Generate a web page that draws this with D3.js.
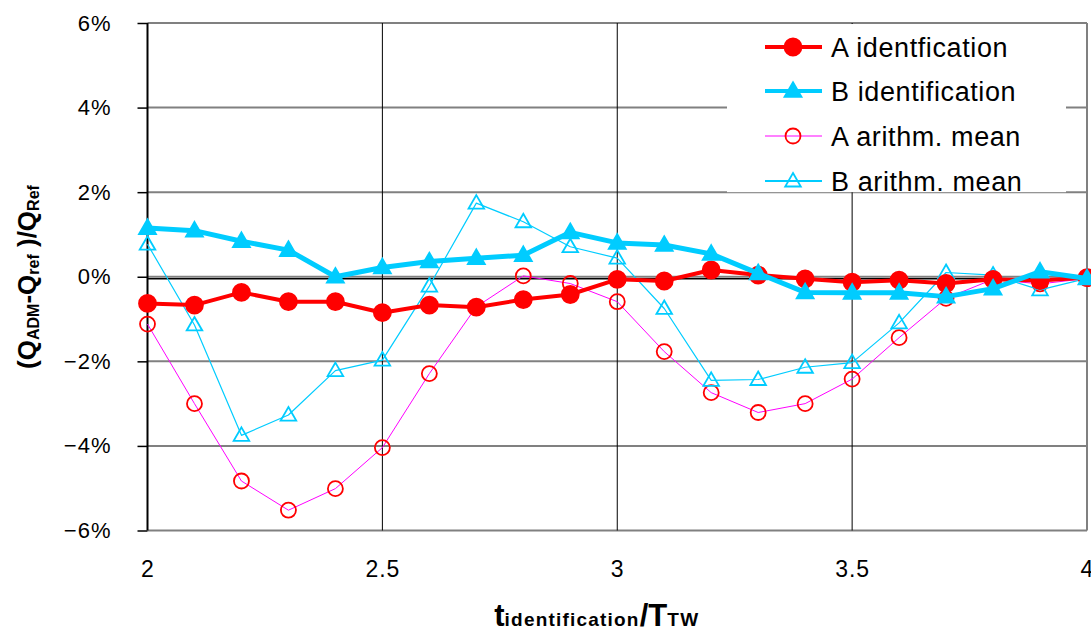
<!DOCTYPE html>
<html>
<head>
<meta charset="utf-8">
<script src="https://cdn.jsdelivr.net/npm/d3@7/dist/d3.min.js"></script>
<style>
    html, body { margin: 0; padding: 0; background: #fff; }
    svg { display: block; font-family: "Liberation Sans", Arial, sans-serif; }
</style>
</head>
<body>
<div id="chart"></div>
<script>
// t_identification / T_TW
var tRatio = [2.0, 2.1, 2.2, 2.3, 2.4, 2.5, 2.6, 2.7, 2.8, 2.9, 3.0,
              3.1, 3.2, 3.3, 3.4, 3.5, 3.6, 3.7, 3.8, 3.9, 4.0];

// deviation in %
var aIdent = [-0.63, -0.67, -0.37, -0.59, -0.59, -0.85, -0.67, -0.72, -0.54, -0.42, -0.06,
              -0.10, 0.16, 0.04, -0.05, -0.13, -0.08, -0.16, -0.06, -0.09, -0.02];
var bIdent = [1.15, 1.09, 0.84, 0.63, 0.00, 0.22, 0.36, 0.44, 0.51, 1.05, 0.80,
              0.75, 0.54, 0.08, -0.37, -0.38, -0.38, -0.47, -0.28, 0.12, -0.04];
var aMean  = [-1.12, -3.00, -4.83, -5.52, -5.01, -4.04, -2.29, -0.71, 0.02, -0.16, -0.59,
              -1.77, -2.74, -3.21, -3.00, -2.42, -1.44, -0.51, -0.06, -0.17, -0.04];
var bMean  = [0.77, -1.14, -3.75, -3.27, -2.22, -1.97, -0.22, 1.74, 1.30, 0.71, 0.44,
              -0.75, -2.45, -2.43, -2.14, -2.03, -1.09, 0.10, 0.04, -0.31, -0.04];

var seriesNames = ['A identfication', 'B identification', 'A arithm. mean', 'B arithm. mean'];
var xTicks = [2, 2.5, 3, 3.5, 4];
var yTicks = [-6, -4, -2, 0, 2, 4, 6];

var RED  = '#ff0000';
var CYAN = '#00ccff';
var PINK = '#ff00ff';

var series = [
    { name: seriesNames[2], values: aMean,  line: PINK, width: 1,   marker: 'circle',   fill: 'none', stroke: RED },
    { name: seriesNames[3], values: bMean,  line: CYAN, width: 1.2, marker: 'triangle', fill: 'none', stroke: CYAN },
    { name: seriesNames[0], values: aIdent, line: RED,  width: 4,   marker: 'circle',   fill: RED,    stroke: RED },
    { name: seriesNames[1], values: bIdent, line: CYAN, width: 5,   marker: 'triangle', fill: CYAN,   stroke: CYAN }
];
var legendOrder = [2, 3, 0, 1];

var W = 1091, H = 637;
var plot = { l: 147.5, r: 1087, t: 23, b: 530.5 };

var x = d3.scaleLinear().domain([2, 4]).range([plot.l, plot.r]);
var y = d3.scaleLinear().domain([-6, 6]).range([plot.b, plot.t]);

var svg = d3.select('#chart').append('svg')
    .attr('width', W)
    .attr('height', H);

// horizontal grid (grey)
svg.append('g')
    .selectAll('line')
    .data(yTicks)
    .join('line')
        .attr('x1', plot.l)
        .attr('x2', plot.r)
        .attr('y1', d => y(d))
        .attr('y2', d => y(d))
        .attr('stroke', '#808080')
        .attr('stroke-width', 2);

// vertical grid (black)
svg.append('g')
    .selectAll('line')
    .data(xTicks.slice(1, -1))
    .join('line')
        .attr('x1', d => x(d))
        .attr('x2', d => x(d))
        .attr('y1', plot.t)
        .attr('y2', plot.b)
        .attr('stroke', '#000')
        .attr('stroke-width', 1);

// right border
svg.append('line')
    .attr('x1', plot.r).attr('x2', plot.r)
    .attr('y1', plot.t).attr('y2', plot.b)
    .attr('stroke', '#808080')
    .attr('stroke-width', 2);

// category axis crossing at 0
svg.append('line')
    .attr('x1', plot.l).attr('x2', plot.r)
    .attr('y1', y(0) + 2).attr('y2', y(0) + 2)
    .attr('stroke', '#000')
    .attr('stroke-width', 1.5);

// value axis
var yAxis = d3.axisLeft(y)
    .tickValues(yTicks)
    .tickSize(10)
    .tickPadding(26)
    .tickFormat(d => (d < 0 ? '\u2212' : '') + Math.abs(d) + '%');

svg.append('g')
    .attr('transform', 'translate(' + plot.l + ',0)')
    .call(yAxis)
    .call(g => g.select('.domain').attr('stroke-width', 2).attr('d', 'M0,' + plot.t + 'V' + plot.b))
    .call(g => g.selectAll('.tick line').attr('stroke-width', 1.5))
    .call(g => g.selectAll('.tick text')
        .attr('font-size', 22)
        .attr('letter-spacing', 1)
        .attr('font-family', '"Liberation Sans", Arial, sans-serif')
        .attr('fill', '#000'));

var xAxis = d3.axisBottom(x)
    .tickValues(xTicks)
    .tickSize(0)
    .tickPadding(30)
    .tickFormat(d3.format('~g'));

svg.append('g')
    .attr('transform', 'translate(0,' + plot.b + ')')
    .call(xAxis)
    .call(g => g.select('.domain').remove())
    .call(g => g.selectAll('.tick text')
        .attr('font-size', 23)
        .attr('letter-spacing', 1)
        .attr('font-family', '"Liberation Sans", Arial, sans-serif')
        .attr('fill', '#000'));

// legend box sits on the grid, white behind it
var legend = svg.append('g');
legend.append('rect')
    .attr('x', 727)
    .attr('y', y(6) + 1)
    .attr('width', 1066 - 727)
    .attr('height', y(2) - y(6) - 1)
    .attr('fill', '#fff');

function drawMarker(sel, s, cx, cy) {
    if (s.marker === 'circle') {
        sel.append('circle')
            .attr('cx', cx)
            .attr('cy', cy)
            .attr('r', s.fill === 'none' ? 7.5 : 8.5)
            .attr('fill', s.fill === 'none' ? 'none' : s.fill)
            .attr('stroke', s.stroke)
            .attr('stroke-width', 1.8);
    } else {
        sel.append('path')
            .attr('transform', 'translate(' + cx + ',' + (cy + 1) + ')')
            .attr('d', d3.symbol(d3.symbolTriangle, s.fill === 'none' ? 105 : 125)())
            .attr('fill', s.fill === 'none' ? 'none' : s.fill)
            .attr('stroke', s.stroke)
            .attr('stroke-width', 1.8);
    }
}

// series lines + markers
var line = d3.line()
    .x((d, i) => x(tRatio[i]))
    .y(d => y(d));

series.forEach(s => {
    var g = svg.append('g');
    g.append('path')
        .attr('d', line(s.values))
        .attr('fill', 'none')
        .attr('stroke', s.line)
        .attr('stroke-width', s.width)
        .attr('stroke-linejoin', 'round');
    s.values.forEach((v, i) => drawMarker(g, s, x(tRatio[i]), y(v)));
});

// legend entries
var rowY = [47, 91, 136, 181];
legendOrder.forEach((k, i) => {
    var s = series[k];
    var g = legend.append('g');
    g.append('line')
        .attr('x1', 765).attr('x2', 822)
        .attr('y1', rowY[i]).attr('y2', rowY[i])
        .attr('stroke', s.line === PINK ? '#ff80ff' : s.line)
        .attr('stroke-width', s.width > 2 ? 4 : 2);
    drawMarker(g, s, 793, rowY[i]);
    g.append('text')
        .attr('x', 831)
        .attr('y', rowY[i])
        .attr('dy', '0.36em')
        .attr('font-size', 27)
        .attr('letter-spacing', 0.6)
        .text(s.name);
});

// axis titles
var xt = svg.append('text')
    .attr('x', 597)
    .attr('y', 626)
    .attr('text-anchor', 'middle')
    .attr('font-weight', 'bold');
xt.append('tspan').attr('font-size', 31).text('t');
xt.append('tspan').attr('font-size', 19).attr('letter-spacing', 1.2).text('identification');
xt.append('tspan').attr('font-size', 31).text('/T');
xt.append('tspan').attr('font-size', 19).attr('letter-spacing', 1.5).text('TW');

var yt = svg.append('text')
    .attr('transform', 'translate(36,277) rotate(-90)')
    .attr('text-anchor', 'middle')
    .attr('font-weight', 'bold');
[['(Q', 26, 0], ['ADM', 16, 3], ['-Q', 26, -3], ['ref', 16, 3], [' )/Q', 26, -3], ['Ref', 16, 3]]
    .forEach(p => {
        yt.append('tspan')
            .attr('font-size', p[1])
            .attr('dy', p[2])
            .text(p[0]);
    });
</script>
</body>
</html>
